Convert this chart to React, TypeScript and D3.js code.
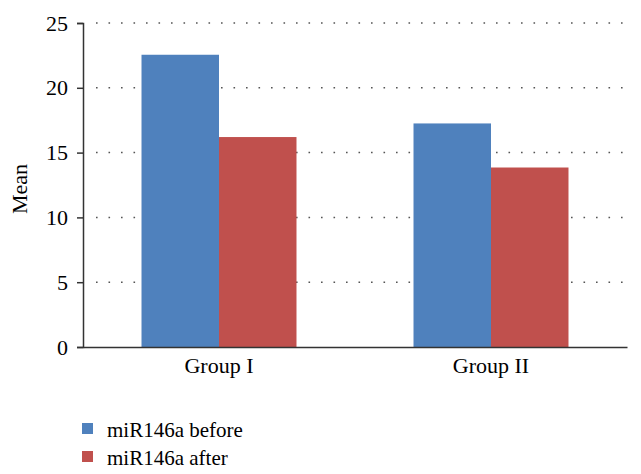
import React, { useEffect, useRef } from "react";
import * as d3 from "d3";

const categories = ["Group I", "Group II"];
const seriesNames = ["miR146a before", "miR146a after"];
const beforeValues = [22.55, 17.25];
const afterValues = [16.2, 13.85];
const yTicks = [0, 5, 10, 15, 20, 25];
const colors = ["#4F81BD", "#C0504D"];

const W = 641;
const H = 474;
const margin = { left: 83, right: 14, top: 23, bottom: 127 };
const FONT = "Liberation Serif";

export default function App() {
  const ref = useRef<SVGSVGElement>(null);

  useEffect(() => {
    document.body.style.margin = "0";
    const svg = d3.select(ref.current);
    svg.selectAll("*").remove();

    const x0 = d3
      .scaleBand<string>()
      .domain(categories)
      .range([margin.left, W - margin.right])
      .padding(0);
    const x1 = d3
      .scaleBand<string>()
      .domain(seriesNames)
      .range([0, x0.bandwidth()])
      .paddingInner(0)
      .paddingOuter(0.755);
    const y = d3
      .scaleLinear()
      .domain([0, 25])
      .range([H - margin.bottom, margin.top]);

    const values = [beforeValues, afterValues];

    // grid lines
    svg
      .append("g")
      .selectAll("line")
      .data(yTicks.filter((t) => t > 0))
      .join("line")
      .attr("x1", margin.left + 13)
      .attr("x2", W - margin.right)
      .attr("y1", (d) => y(d))
      .attr("y2", (d) => y(d))
      .attr("stroke", "#555")
      .attr("stroke-width", 1.5)
      .attr("stroke-dasharray", "1.6,10.9");

    // bars
    const g = svg.append("g");
    categories.forEach((cat, ci) => {
      seriesNames.forEach((s, si) => {
        const v = values[si][ci];
        g.append("rect")
          .attr("x", (x0(cat) as number) + (x1(s) as number))
          .attr("y", y(v))
          .attr("width", x1.bandwidth())
          .attr("height", y(0) - y(v))
          .attr("fill", colors[si]);
      });
    });

    // y axis
    const yAxis = d3
      .axisLeft(y)
      .tickValues(yTicks)
      .tickSize(6)
      .tickPadding(9)
      .tickFormat(d3.format("d"));
    const ya = svg
      .append("g")
      .attr("transform", `translate(${margin.left},0)`)
      .call(yAxis)
      .attr("font-family", FONT)
      .attr("font-size", 22);
    ya.select(".domain").attr("stroke", "#333").attr("stroke-width", 1.5);
    ya.selectAll(".tick line").attr("stroke", "#333").attr("stroke-width", 1.5);
    ya.selectAll(".tick text").attr("fill", "#000");

    // x axis
    const xa = svg
      .append("g")
      .attr("transform", `translate(0,${y(0)})`)
      .call(d3.axisBottom(x0).tickSize(0).tickPadding(10))
      .attr("font-family", FONT)
      .attr("font-size", 22);
    xa.select(".domain").attr("stroke", "#333").attr("stroke-width", 1.5);
    xa.selectAll(".tick text").attr("fill", "#000");

    // y label
    svg
      .append("text")
      .attr("transform", `translate(27,${(margin.top + y(0)) / 2 + 4}) rotate(-90)`)
      .attr("text-anchor", "middle")
      .attr("font-family", FONT)
      .attr("font-size", 22)
      .attr("fill", "#000")
      .text("Mean");

    // legend (bottom cut off like the reference)
    svg
      .append("clipPath")
      .attr("id", "legclip")
      .append("rect")
      .attr("x", 0)
      .attr("y", 0)
      .attr("width", W)
      .attr("height", 470);
    const lg = svg.append("g").attr("clip-path", "url(#legclip)");
    seriesNames.forEach((s, i) => {
      const yy = 423 + i * 28;
      lg.append("rect")
        .attr("x", 82)
        .attr("y", yy)
        .attr("width", 11)
        .attr("height", 11)
        .attr("fill", colors[i]);
      lg.append("text")
        .attr("x", 107)
        .attr("y", yy + 14)
        .attr("font-family", FONT)
        .attr("font-size", 21)
        .attr("fill", "#000")
        .text(s);
    });
  }, []);

  return (
    <svg
      ref={ref}
      width={W}
      height={H}
      style={{ display: "block", background: "#fff" }}
    />
  );
}
